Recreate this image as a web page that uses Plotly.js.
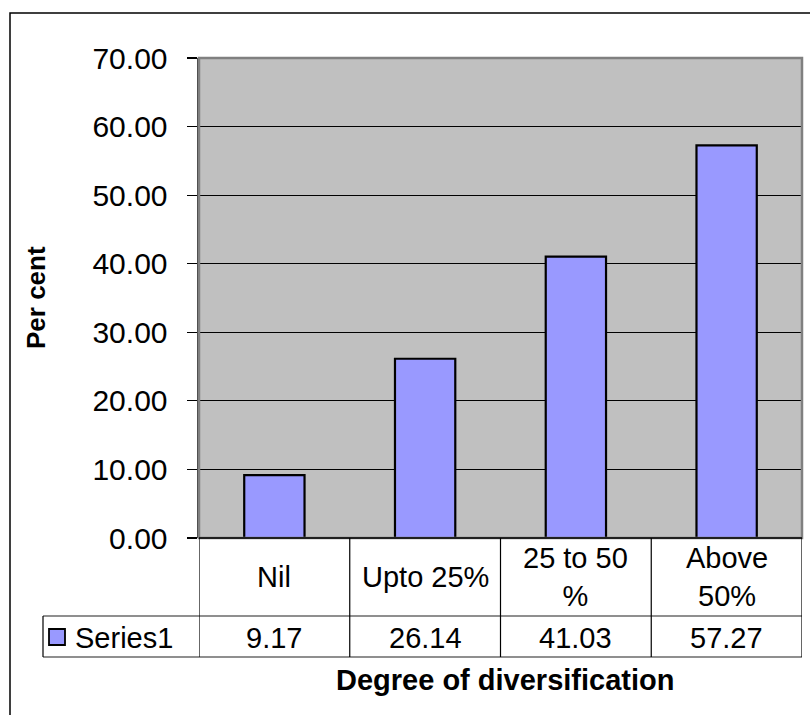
<!DOCTYPE html>
<html>
<head>
<meta charset="utf-8">
<script src="https://cdn.plot.ly/plotly-3.0.1.min.js"></script>
<style>
  html, body { margin: 0; padding: 0; background: #ffffff; }
  #chart { width: 810px; height: 715px; }
</style>
</head>
<body>
<div id="chart"></div>
<script>
// Share of households by degree of diversification
const categories = ['Nil', 'Upto 25%', '25 to 50 %', 'Above 50%'];
const categoryLabels = ['Nil', 'Upto 25%', '25 to 50<br>%', 'Above<br>50%'];
const series1 = [9.17, 26.14, 41.03, 57.27];
const seriesName = 'Series1';
const yTitle = 'Per cent';
const xTitle = 'Degree of diversification';

const FONT = '"Liberation Sans", Arial, sans-serif';
const BAR_FILL = '#9999ff';
const TABLE_FONT = 29;

// Plot area spans 603 x 480 px; helpers convert pixel offsets to paper units
const PW = 603, PH = 480, ML = 199, MT = 58;
const px = v => (v - ML) / PW;
const py = v => (MT + PH - v) / PH;

const trace = {
  type: 'bar',
  x: categories,
  y: series1,
  name: seriesName,
  marker: { color: BAR_FILL, line: { color: '#000000', width: 2.2 } },
  hoverinfo: 'x+y'
};

const shapes = [];
const annotations = [];

// Chart frame
shapes.push({ type: 'rect', xref: 'paper', yref: 'paper',
  x0: px(10), x1: px(816), y0: py(13), y1: py(722),
  line: { color: '#000000', width: 1.5 }, layer: 'below' });

// Plot-area border (top / right)
shapes.push({ type: 'rect', xref: 'paper', yref: 'paper',
  x0: 0, x1: 1, y0: 0, y1: 1,
  line: { color: '#808080', width: 2.5 }, layer: 'above' });

// Data table grid
const rowTop = 538, rowMid = 616, rowBot = 657, labelLeft = 43;
shapes.push({ type: 'line', xref: 'paper', yref: 'paper',
  x0: 0, x1: 1, y0: py(rowTop), y1: py(rowTop), line: { color: '#000000', width: 1.5 } });
[rowMid, rowBot].forEach(r => shapes.push({ type: 'line', xref: 'paper', yref: 'paper',
  x0: px(labelLeft), x1: 1, y0: py(r), y1: py(r), line: { color: '#6a6a6a', width: 1.5 } }));
for (let i = 0; i <= categories.length; i++) {
  shapes.push({ type: 'line', xref: 'x', yref: 'paper',
    x0: i - 0.5, x1: i - 0.5, y0: py(rowTop), y1: py(rowBot),
    line: { color: '#000000', width: 1.2 } });
}
shapes.push({ type: 'line', xref: 'paper', yref: 'paper',
  x0: px(labelLeft), x1: px(labelLeft), y0: py(rowMid), y1: py(rowBot),
  line: { color: '#000000', width: 1.2 } });

// Legend key in the series row
shapes.push({ type: 'rect', xref: 'paper', yref: 'paper',
  x0: px(49), x1: px(65), y0: py(645), y1: py(629),
  fillcolor: BAR_FILL, line: { color: '#000000', width: 1.8 } });

// Category labels and values in the table
categories.forEach((c, i) => {
  annotations.push({ xref: 'x', yref: 'paper', x: c, y: py((rowTop + rowMid) / 2),
    text: categoryLabels[i], showarrow: false, xanchor: 'center', yanchor: 'middle',
    font: { family: FONT, size: TABLE_FONT, color: '#000000' } });
  annotations.push({ xref: 'x', yref: 'paper', x: c, y: py((rowMid + rowBot) / 2 + 1),
    text: series1[i].toFixed(2), showarrow: false, xanchor: 'center', yanchor: 'middle',
    font: { family: FONT, size: TABLE_FONT, color: '#000000' } });
});
annotations.push({ xref: 'paper', yref: 'paper', x: px(73), y: py((rowMid + rowBot) / 2 + 1),
  text: seriesName, showarrow: false, xanchor: 'left', yanchor: 'middle',
  font: { family: FONT, size: TABLE_FONT, color: '#000000' } });

// Axis titles
annotations.push({ xref: 'paper', yref: 'paper', x: px(36), y: 0.5, textangle: -90,
  text: '<b>' + yTitle + '</b>', showarrow: false, xanchor: 'center', yanchor: 'middle',
  font: { family: FONT, size: 26, color: '#000000' } });
annotations.push({ xref: 'paper', yref: 'paper', x: px(505), y: py(680),
  text: '<b>' + xTitle + '</b>', showarrow: false, xanchor: 'center', yanchor: 'middle',
  font: { family: FONT, size: 29, color: '#000000' } });

const layout = {
  width: 810, height: 715,
  margin: { l: ML, r: 810 - ML - PW, t: MT, b: 715 - MT - PH },
  paper_bgcolor: '#ffffff',
  plot_bgcolor: '#c0c0c0',
  showlegend: false,
  bargap: 0.6,
  font: { family: FONT, color: '#000000' },
  xaxis: {
    type: 'category', range: [-0.5, 3.5],
    showticklabels: false, ticks: '', showgrid: false, zeroline: false,
    showline: false, fixedrange: true
  },
  yaxis: {
    range: [0, 70], dtick: 10, tick0: 0, tickformat: '.2f',
    ticks: 'outside', ticklen: 10, tickwidth: 1.2, tickcolor: '#000000',
    ticklabelstandoff: 13,
    tickfont: { family: FONT, size: 30, color: '#000000' },
    showgrid: true, gridcolor: '#000000', gridwidth: 1.2,
    zeroline: false,
    showline: true, linecolor: '#404040', linewidth: 2.5,
    fixedrange: true
  },
  shapes: shapes,
  annotations: annotations
};

Plotly.newPlot('chart', [trace], layout, { displayModeBar: false, staticPlot: true });
</script>
</body>
</html>
